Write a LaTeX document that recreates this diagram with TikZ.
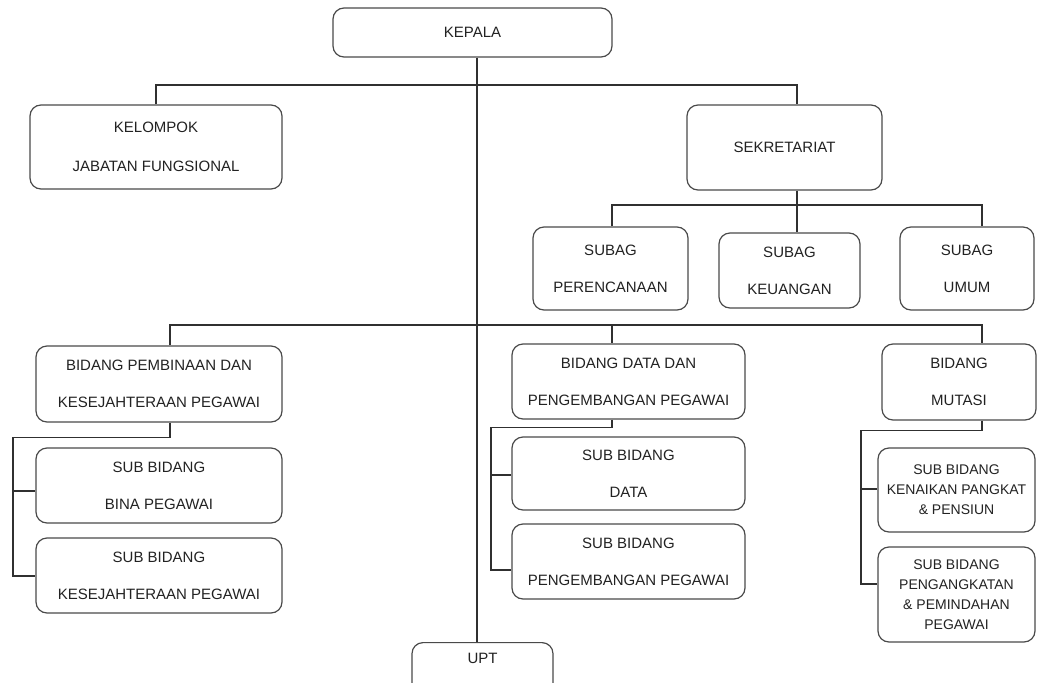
\documentclass[tikz,border=0pt]{standalone}
\usepackage{fontspec}
\setmainfont{Liberation Sans}
\definecolor{ln}{HTML}{303030}
\definecolor{bx}{HTML}{4A4A4A}
\definecolor{tx}{HTML}{222222}
\begin{document}
\begin{tikzpicture}[x=1pt,y=-1pt,
  box/.style={draw=bx,line width=1.2pt,rounded corners=11pt,align=center,
    text=tx,inner sep=0pt,font=\fontsize{15}{37}\selectfont},
  smallbox/.style={box,font=\fontsize{14}{20}\selectfont},
  conn/.style={draw=ln,line width=1.2pt}]
\useasboundingbox (0,0) rectangle (1037,683);
\clip (0,0) rectangle (1037,683);
\fill[white] (0,0) rectangle (1037,683);
% boxes
\node[box,minimum width=279,minimum height=49] (kep) at (472.5,32.5) {KEPALA};
\node[box,minimum width=252,minimum height=84,font=\fontsize{15}{39}\selectfont] (kel) at (156,147) {KELOMPOK\\JABATAN FUNGSIONAL};
\node[box,minimum width=195,minimum height=85] (sek) at (784.5,147.5) {SEKRETARIAT};
\node[box,minimum width=155,minimum height=83] (sp) at (610.5,268.5) {SUBAG\\PERENCANAAN};
\node[box,minimum width=141,minimum height=75] (sk) at (789.5,270.5) {SUBAG\\KEUANGAN};
\node[box,minimum width=134,minimum height=83] (su) at (967,268.5) {SUBAG\\UMUM};
\node[box,minimum width=246,minimum height=76] (bp) at (159,384) {BIDANG PEMBINAAN DAN\\KESEJAHTERAAN PEGAWAI};
\node[box,minimum width=246,minimum height=75] (sbp) at (159,485.5) {SUB BIDANG\\BINA PEGAWAI};
\node[box,minimum width=246,minimum height=75] (skp) at (159,575.5) {SUB BIDANG\\KESEJAHTERAAN PEGAWAI};
\node[box,minimum width=233,minimum height=75] (bd) at (628.5,381.5) {BIDANG DATA DAN\\PENGEMBANGAN PEGAWAI};
\node[box,minimum width=233,minimum height=73] (sd) at (628.5,473.5) {SUB BIDANG\\DATA};
\node[box,minimum width=233,minimum height=75] (spp) at (628.5,561.5) {SUB BIDANG\\PENGEMBANGAN PEGAWAI};
\node[box,minimum width=154,minimum height=76] (bm) at (959,382) {BIDANG\\MUTASI};
\node[smallbox,minimum width=157,minimum height=84] (skn) at (956.5,490) {SUB BIDANG\\KENAIKAN PANGKAT\\\&~PENSIUN};
\node[smallbox,minimum width=157,minimum height=95] (spg) at (956.5,594.5) {SUB BIDANG\\PENGANGKATAN\\\&~PEMINDAHAN\\PEGAWAI};
\node[box,anchor=north,minimum width=141,text height=21pt,text depth=40pt] (upt) at (482.5,642) {UPT};
% guide coordinates
\coordinate (mv) at (477,0);
\coordinate (sv) at (797,0);
\coordinate (c612) at (612,0);
\coordinate (c982) at (982,0);
\coordinate (c170) at (170,0);
\coordinate (bus1) at (0,85);
\coordinate (bus2) at (0,205);
\coordinate (bus3) at (0,325);
\coordinate (l1) at (13,0);
\coordinate (l2) at (491,0);
\coordinate (l3) at (861,0);
% connectors
\draw[conn] (kep.south -| mv) -- (upt.north -| mv);
\draw[conn] (kel.north) -- (kel.north |- bus1) -- (bus1 -| sv) -- (sek.north -| sv);
\draw[conn] (sek.south -| sv) -- (sk.north -| sv);
\draw[conn] (sp.north -| c612) -- (bus2 -| c612) -- (bus2 -| c982) -- (su.north -| c982);
\draw[conn] (bp.north -| c170) -- (bus3 -| c170) -- (bus3 -| c982) -- (bm.north -| c982);
\draw[conn] (bus3 -| c612) -- (bd.north -| c612);
% bidang pembinaan subs
\draw[conn] (bp.south -| c170) -- ++(0,15) -| ([yshift=-0.5pt]l1 |- skp.west) -- ([yshift=-0.5pt]skp.west);
\draw[conn] ([yshift=-5.5pt]l1 |- sbp.west) -- ([yshift=-5.5pt]sbp.west);
% bidang data subs
\draw[conn] (bd.south -| c612) -- ++(0,8) -| ([yshift=-8.5pt]l2 |- spp.west) -- ([yshift=-8.5pt]spp.west);
\draw[conn] ([yshift=-1.5pt]l2 |- sd.west) -- ([yshift=-1.5pt]sd.west);
% bidang mutasi subs
\draw[conn] (bm.south -| c982) -- ++(0,10) -| ([yshift=10.5pt]l3 |- spg.west) -- ([yshift=10.5pt]spg.west);
\draw[conn] ([yshift=1pt]l3 |- skn.west) -- ([yshift=1pt]skn.west);
\end{tikzpicture}
\end{document}
